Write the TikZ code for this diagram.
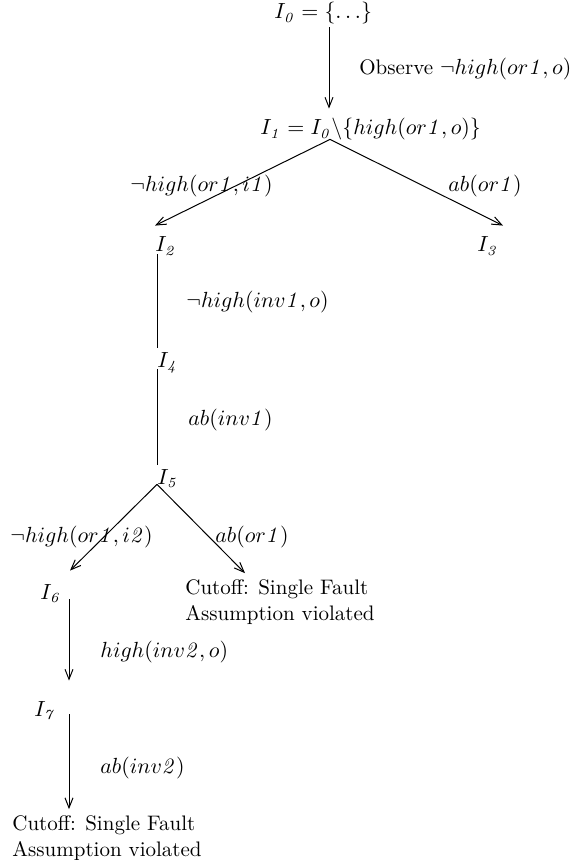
\documentclass[tikz,border=0pt]{standalone}
\usetikzlibrary{arrows.meta,calc}
\newcommand{\dg}[1]{\mathit{#1}}
\begin{document}
\begin{tikzpicture}[x=0.5pt,y=-0.5pt,
  txt/.style={inner sep=0pt, anchor=west, text height=7.5pt, text depth=2.5pt,
    font=\fontsize{10.5}{13}\selectfont},
  cut/.style={inner sep=0pt, anchor=west, align=left,
    font=\fontsize{10.5}{13}\selectfont},
  edge/.style={line width=0.5pt},
  arr/.style={edge, -{Straight Barb[length=5pt,width=4pt]}}]
\useasboundingbox (0,0) rectangle (569,860);

% states
\node[txt] (i0) at (274,14) {$I_{\dg0} = \{\ldots\}$};
\node[txt] (i1) at (260,130) {$I_{\dg1} = I_{\dg0}\backslash\{high(or\dg1, o)\}$};
\node[txt] (i2) at (155,247) {$I_{\dg2}$};
\node[txt] (i3) at (477,247) {$I_{\dg3}$};
\node[txt] (i4) at (157,362) {$I_{\dg4}$};
\node[txt] (i5) at (157,479) {$I_{\dg5}$};
\node[txt] (i6) at (40,594) {$I_{\dg6}$};
\node[txt] (i7) at (34,711) {$I_{\dg7}$};
\node[cut] (c1) at (185,602) {Cutoff: Single Fault\\Assumption violated};
\node[cut] (c2) at (12,838) {Cutoff: Single Fault\\Assumption violated};

% transition labels
\node[txt] (l01) at (359,70) {Observe $\neg high(or\dg1, o)$};
\node[txt] (l12) at (130,187) {$\neg high(or\dg1, i\dg1)$};
\node[txt] (l13) at (448,187) {$ab(or\dg1)$};
\node[txt] (l24) at (186,303) {$\neg high(inv\dg1, o)$};
\node[txt] (l45) at (188,420) {$ab(inv\dg1)$};
\node[txt] (l56) at (10,537) {$\neg high(or\dg1, i\dg2)$};
\node[txt] (l5c) at (215,537) {$ab(or\dg1)$};
\node[txt] (l67) at (100,652) {$high(inv\dg2, o)$};
\node[txt] (l7c) at (100,768) {$ab(inv\dg2)$};

% fork points under the states that branch
\coordinate (f1) at ($(i1.south -| 330,0)+(0,-1)$);
\coordinate (f5) at ($(i5.south -| 157,0)+(0,-5)$);

% transitions
\draw[arr] ($(i0.south -| 329,0)+(0,3)$) -- ($(i1.north -| 329,0)+(0,-11)$);
\draw[arr] (f1) -- ($(i2.north -| 155,0)+(0,-11)$);
\draw[arr] (f1) -- ($(i3.north -| 503,0)+(0,-11)$);
\draw[edge] ($(i2.south -| 157,0)+(0,-3)$) -- ($(i4.north -| 157,0)+(0,-4)$);
\draw[edge] ($(i4.south -| 157,0)+(0,-3)$) -- ($(i5.north -| 157,0)+(0,-4)$);
\draw[arr] (f5) -- ($(i6.north -| 70,0)+(0,-13)$);
\draw[arr] (f5) -- ($(c1.north -| 245,0)+(0,-6)$);
\draw[arr] ($(i6.south -| 69,0)+(0,-5)$) -- ($(i7.north -| 69,0)+(0,-20)$);
\draw[arr] ($(i7.south -| 69,0)+(0,-7)$) -- ($(c2.north -| 69,0)+(0,-6)$);
\end{tikzpicture}
\end{document}
